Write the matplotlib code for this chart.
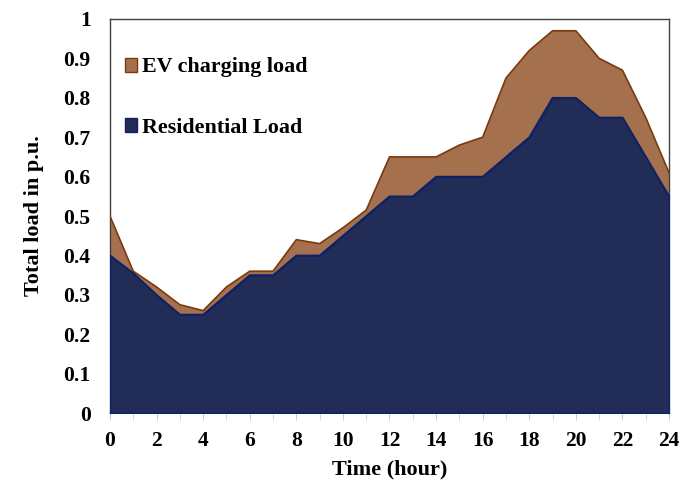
import matplotlib
matplotlib.use("Agg")
import matplotlib.pyplot as plt
import numpy as np
from matplotlib.patches import Patch

hours = list(range(25))
residential = [0.40, 0.355, 0.30, 0.25, 0.25, 0.30, 0.35, 0.35, 0.40, 0.40, 0.45, 0.50,
               0.55, 0.55, 0.60, 0.60, 0.60, 0.65, 0.70, 0.80, 0.80, 0.75, 0.75, 0.65, 0.55]
total = [0.50, 0.36, 0.32, 0.275, 0.26, 0.32, 0.36, 0.36, 0.44, 0.43, 0.47, 0.515,
         0.65, 0.65, 0.65, 0.68, 0.70, 0.85, 0.92, 0.97, 0.97, 0.90, 0.87, 0.75, 0.61]
yticks = [0, 0.1, 0.2, 0.3, 0.4, 0.5, 0.6, 0.7, 0.8, 0.9, 1]
ytick_labels = ["0", "0.1", "0.2", "0.3", "0.4", "0.5", "0.6", "0.7", "0.8", "0.9", "1"]
xticks = list(range(0, 25, 2))

plt.rcParams['font.family'] = ['Liberation Serif', 'DejaVu Serif']
plt.rcParams['font.weight'] = 'bold'

fig = plt.figure(figsize=(6.81, 4.86), dpi=100)
ax = fig.add_axes([0.1615, 0.150, 0.8209, 0.811])

res_col = '#212D56'
res_edge = '#0E2166'
ev_col = '#A5704D'
ev_edge = '#7A3A0E'

ax.fill_between(hours, 0, residential, facecolor=res_col, edgecolor=res_edge, linewidth=1.2, zorder=3)
ax.fill_between(hours, residential, total, facecolor=ev_col, edgecolor='none', zorder=2)
ax.plot(hours, total, color=ev_edge, linewidth=1.2, zorder=4)
ax.plot(hours, residential, color=res_edge, linewidth=1.2, zorder=4)

ax.set_xlim(0, 24)
ax.set_ylim(0, 1)
ax.set_yticks(yticks)
ax.set_yticklabels(ytick_labels)
ax.set_xticks(xticks)
ax.set_xticks(hours, minor=True)
ax.tick_params(axis='y', length=0, pad=14, labelsize=15.5)
ax.tick_params(axis='x', which='both', length=5, color='#C8CDDC', direction='out', labelsize=15.5, pad=8)

for side in ['top', 'left', 'right']:
    ax.spines[side].set_color('#404040')
    ax.spines[side].set_linewidth(1.0)
ax.spines['bottom'].set_color('#B8C0D8')
ax.spines['bottom'].set_linewidth(1.2)

ax.set_xlabel('Time (hour)', fontsize=16, fontweight='bold', labelpad=6)
ax.set_ylabel('Total load in p.u.', fontsize=16, fontweight='bold', labelpad=14)

handles = [Patch(facecolor=ev_col, edgecolor=ev_edge), Patch(facecolor=res_col, edgecolor=res_edge)]
ax.legend(handles, ['EV charging load', 'Residential Load'], loc='upper left',
          bbox_to_anchor=(-0.013, 0.958), frameon=False, handlelength=0.55,
          handleheight=0.6, handletextpad=0.25, labelspacing=1.85, borderaxespad=0.6,
          prop={'weight': 'bold', 'size': 15.8})

fig.savefig('out.png', dpi=100)
